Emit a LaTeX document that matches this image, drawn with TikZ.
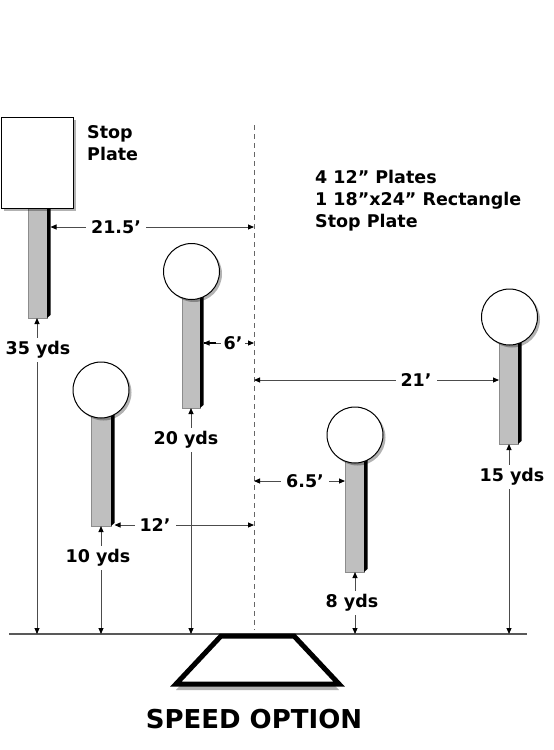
\documentclass[tikz,border=0pt]{standalone}
\usepackage{fontspec}
\setmainfont{DejaVu Sans}
\usetikzlibrary{arrows.meta,shadows}
\begin{document}
\begin{tikzpicture}[x=1pt,y=-1pt,
  lbl/.style={font=\fontsize{17.5}{21}\selectfont\bfseries, fill=white, inner xsep=5pt, inner ysep=3pt},
  txt/.style={font=\fontsize{17.5}{22}\selectfont\bfseries, align=left, inner sep=0pt, anchor=north west},
  tip/.tip={Triangle[length=6pt,width=5pt,color=black]},
  dim/.style={draw=black!70, line width=0.9pt, tip-tip},
  post/.style={fill=black!25, draw=black!45, line width=0.5pt},
  side/.style={fill=black},
  shad/.style={drop shadow={shadow xshift=2.5pt, shadow yshift=-2.5pt, opacity=0.3, fill=black}},
  plate/.style={circle, draw=black, line width=1pt, fill=white, minimum size=56pt, inner sep=0pt, shad},
]
\useasboundingbox (0,0) rectangle (554,750);

% centre line and ground
\coordinate (dtop) at (254,125);
\coordinate (dbot) at (254,630);
\draw[black!60, line width=0.9pt, dash pattern=on 5pt off 4pt] (dtop) -- (dbot);
\coordinate (gl) at (9,634);
\coordinate (gr) at (527,634);
\draw[black!65, line width=1.1pt] (gl) -- (gr);

% shooting box
\draw[line width=5pt, line join=miter, fill=white,
  drop shadow={shadow xshift=0pt, shadow yshift=-6pt, opacity=0.3, fill=black}]
  (221,636) -- (294,636) -- (339,684) -- (176,684) -- cycle;
\node[font=\fontsize{26}{30}\selectfont\bfseries] (speed) at (254,719) {SPEED OPTION};

% posts
\draw[post] (28,208) rectangle (47,318);
\fill[side] (47,208) -- (50.5,208) -- (50.5,315) -- (47,318) -- cycle;
\draw[post] (182,285) rectangle (200,408);
\fill[side] (200,285) -- (203.5,285) -- (203.5,405) -- (200,408) -- cycle;
\draw[post] (91,400) rectangle (111,526);
\fill[side] (111,400) -- (114.5,400) -- (114.5,523) -- (111,526) -- cycle;
\draw[post] (345,445) rectangle (364,572);
\fill[side] (364,445) -- (367.5,445) -- (367.5,569) -- (364,572) -- cycle;
\draw[post] (499,330) rectangle (518,444);
\fill[side] (518,330) -- (521.5,330) -- (521.5,441) -- (518,444) -- cycle;

% plates
\node[draw=black, line width=1pt, fill=white, minimum width=72pt, minimum height=91pt, inner sep=0pt, shad] (stop) at (37,162.5) {};
\node[plate] (p20) at (191.5,271.5) {};
\node[plate] (p10) at (101,390) {};
\node[plate] (p8) at (355,435) {};
\node[plate] (p15) at (509.5,317) {};

% texts
\node[txt] (stoptxt) at (87,125.5) {Stop\\Plate};
\node[txt] (info) at (315,169.5) {4 12” Plates\\1 18”x24” Rectangle\\Stop Plate};

% horizontal dimensions
\coordinate (h1a) at (50.5,227); \coordinate (h1b) at (254,227);
\draw[dim] (h1a) -- (h1b);
\node[lbl] (d215) at (116,227) {21.5’};

\coordinate (h2a) at (203.5,343); \coordinate (h2b) at (254,343);
\draw[dim] (h2a) -- (h2b);
\draw[black, line width=2pt] (h2a) -- ++(12,0);
\node[lbl, inner xsep=3pt] (d6) at (233,343) {6’};

\coordinate (h3a) at (254,380); \coordinate (h3b) at (499,380);
\draw[dim] (h3a) -- (h3b);
\node[lbl] (d21) at (416,380) {21’};

\coordinate (h4a) at (254,481); \coordinate (h4b) at (345,481);
\draw[dim] (h4a) -- (h4b);
\node[lbl] (d65) at (305,481) {6.5’};

\coordinate (h5a) at (114.5,525); \coordinate (h5b) at (254,525);
\draw[dim] (h5a) -- (h5b);
\node[lbl] (d12) at (155,525) {12’};

% vertical dimensions
\coordinate (v35a) at (37,634); \coordinate (v35b) at (37,318);
\draw[dim] (v35a) -- (v35b);
\node[lbl] (y35) at (38,350) {35 yds};

\coordinate (v20a) at (191,634); \coordinate (v20b) at (191,408);
\draw[dim] (v20a) -- (v20b);
\node[lbl] (y20) at (186,440) {20 yds};

\coordinate (v10a) at (101,634); \coordinate (v10b) at (101,526);
\draw[dim] (v10a) -- (v10b);
\node[lbl] (y10) at (98,558) {10 yds};

\coordinate (v8a) at (355,634); \coordinate (v8b) at (355,572);
\draw[dim] (v8a) -- (v8b);
\node[lbl] (y8) at (352,603) {8 yds};

\coordinate (v15a) at (509,634); \coordinate (v15b) at (509,444);
\draw[dim] (v15a) -- (v15b);
\node[lbl] (y15) at (512,477) {15 yds};
\end{tikzpicture}
\end{document}
